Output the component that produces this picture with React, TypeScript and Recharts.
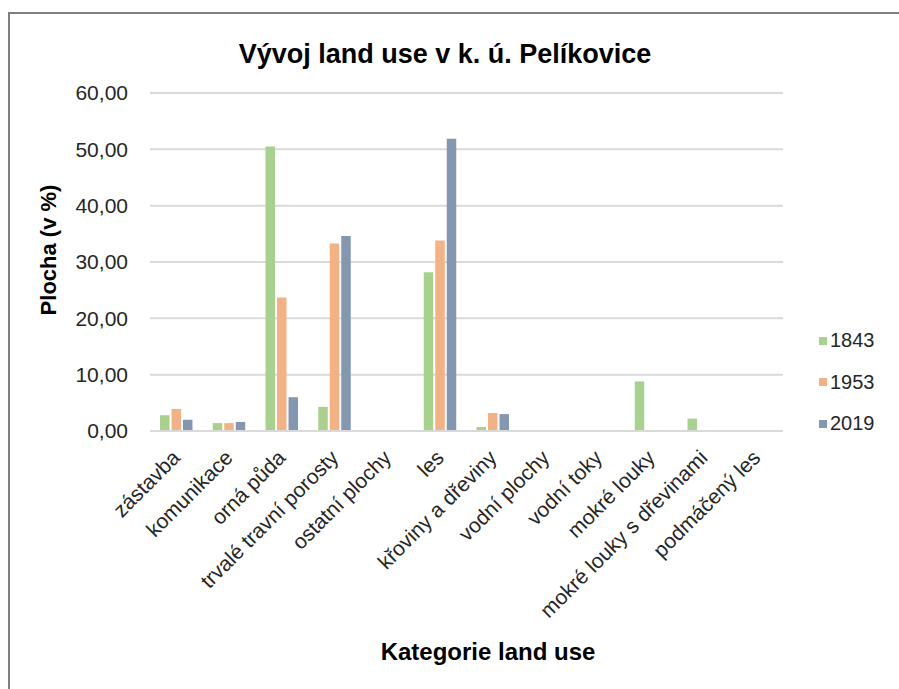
import React from 'react';
import { BarChart, Bar, XAxis, YAxis, CartesianGrid, Legend, Label } from 'recharts';

const categories = [
  'zástavba', 'komunikace', 'orná půda', 'trvalé travní porosty', 'ostatní plochy', 'les',
  'křoviny a dřeviny', 'vodní plochy', 'vodní toky', 'mokré louky', 'mokré louky s dřevinami', 'podmáčený les',
];
const s1843 = [2.8, 1.4, 50.5, 4.3, 0, 28.2, 0.7, 0, 0, 8.8, 2.2, 0];
const s1953 = [3.9, 1.4, 23.7, 33.3, 0, 33.8, 3.2, 0, 0, 0, 0, 0];
const s2019 = [2.0, 1.6, 6.0, 34.6, 0, 51.9, 3.0, 0, 0, 0, 0, 0];
const yTicks = [0, 10, 20, 30, 40, 50, 60];
const seriesNames = ['1843', '1953', '2019'];
const colors = ['#A9D18E', '#F4B183', '#8497B0'];

const data = categories.map((c, i) => ({ name: c, '1843': s1843[i], '1953': s1953[i], '2019': s2019[i] }));

const FONT = 'Liberation Sans, Arial, sans-serif';

const fmt = (v: number) => v.toFixed(2).replace('.', ',');

const XTick = (props: any) => {
  const { x, y, payload } = props;
  const px = x + 5;
  const py = y + 20;
  return (
    <text x={px} y={py} textAnchor="end" fontSize={21} fontFamily={FONT} fill="#262626"
      transform={`rotate(-45, ${px}, ${py})`}>
      {payload.value}
    </text>
  );
};

const LegendContent = () => (
  <div style={{ fontFamily: FONT, fontSize: 20, color: '#262626' }}>
    {seriesNames.map((n, i) => (
      <div key={n} style={{ display: 'flex', alignItems: 'center', height: 41.5 }}>
        <span style={{ display: 'inline-block', width: 8, height: 8, background: colors[i], marginRight: 3 }} />
        <span>{n}</span>
      </div>
    ))}
  </div>
);

export default function App() {
  return (
    <div style={{ position: 'absolute', left: 0, top: 0, width: 899, height: 689, background: '#fff', overflow: 'hidden' }}>
      <div style={{ position: 'absolute', left: 8, top: 12, width: 891, height: 2, background: '#7f7f7f' }} />
      <div style={{ position: 'absolute', left: 8, top: 12, width: 2, height: 677, background: '#7f7f7f' }} />
      <div style={{ position: 'absolute', left: 0, top: 0 }}>
        <BarChart width={899} height={689} data={data}
          margin={{ top: 93, right: 36, left: 0, bottom: 0 }}
          barSize={9.5} barGap={2}>
          <text x={445} y={63} textAnchor="middle" fontSize={27} fontWeight="bold" fontFamily={FONT} fill="#000">
            Vývoj land use v k. ú. Pelíkovice
          </text>
          <CartesianGrid vertical={false} stroke="#d9d9d9" strokeWidth={2} />
          <XAxis dataKey="name" interval={0} height={258} tickLine={false}
            axisLine={{ stroke: '#d9d9d9', strokeWidth: 2 }} tick={<XTick />}>
            <Label content={() => (
              <text x={488} y={660} textAnchor="middle" fontSize={24} fontWeight="bold" fontFamily={FONT} fill="#000">
                Kategorie land use
              </text>
            )} />
          </XAxis>
          <YAxis width={150} domain={[0, 60]} ticks={yTicks} tickFormatter={fmt}
            axisLine={false} tickLine={false} tickSize={0} tickMargin={22}
            tick={{ fontSize: 21, fontFamily: FONT, fill: '#262626' }}>
            <Label content={() => (
              <text x={56} y={250} textAnchor="middle" fontSize={22} fontWeight="bold" fontFamily={FONT} fill="#000"
                transform="rotate(-90, 56, 250)">
                Plocha (v %)
              </text>
            )} />
          </YAxis>
          <Legend layout="horizontal" verticalAlign="middle" align="right"
            wrapperStyle={{ position: 'absolute', left: 819, top: 320, width: 80 }}
            content={<LegendContent />} />
          {seriesNames.map((n, i) => (
            <Bar key={n} dataKey={n} fill={colors[i]} isAnimationActive={false} />
          ))}
        </BarChart>
      </div>
    </div>
  );
}
